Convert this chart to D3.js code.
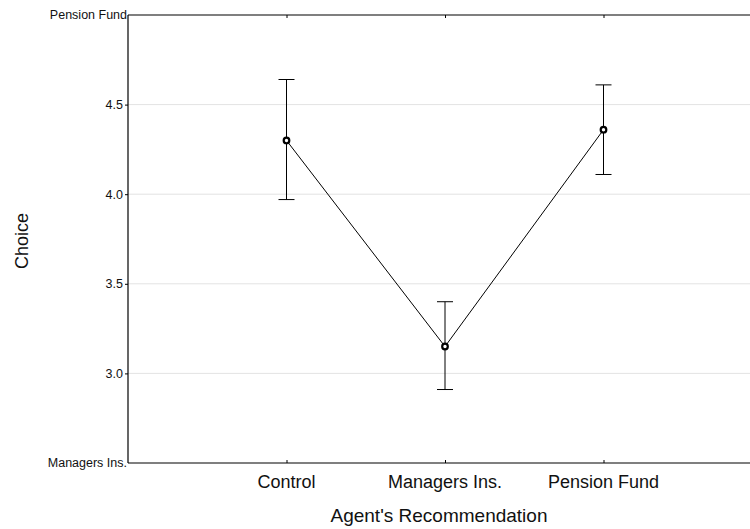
<!DOCTYPE html>
<html>
<head>
<meta charset="utf-8">
<script src="https://cdn.jsdelivr.net/npm/d3@7"></script>
<style>
  body { margin: 0; background: white; }
  text { font-family: "Liberation Sans", Arial, sans-serif; }
</style>
</head>
<body>
<svg id="chart"></svg>
<script>
// data
const categories = ["Control", "Managers Ins.", "Pension Fund"];
const means = [4.30, 3.15, 4.36];
const upper = [4.64, 3.40, 4.61];
const lower = [3.97, 2.91, 4.11];
const yTicks = [3.0, 3.5, 4.0, 4.5];
const yEndLabels = [[2.5, "Managers Ins."], [5.0, "Pension Fund"]];

const width = 750, height = 529;
const plotLeft = 128, plotTop = 15, plotBottom = 463;

const svg = d3.select("#chart")
    .attr("width", width)
    .attr("height", height);

//x positions: categories at 1,2,3
const x = d3.scaleLinear().domain([0, 4]).range([plotLeft, 762]);
const y = d3.scaleLinear().domain([2.5, 5.0]).range([plotBottom, plotTop]);

//grid lines
svg.append("g")
    .selectAll("line")
    .data(yTicks)
    .join("line")
    .attr("x1", plotLeft).attr("x2", width)
    .attr("y1", d => y(d)).attr("y2", d => y(d))
    .attr("stroke", "#e3e3e3")
    .attr("stroke-width", 1);

//left axis
const yAxis = svg.append("g")
    .attr("transform", `translate(${plotLeft},0)`)
    .call(d3.axisLeft(y).tickValues(yTicks).tickSize(3).tickPadding(2).tickFormat(d3.format(".1f")));
yAxis.select(".domain").remove();
yAxis.selectAll("text").style("font-size", "12.5px").attr("fill", "#111");

//end labels on y axis
svg.append("g")
    .selectAll("text")
    .data(yEndLabels)
    .join("text")
    .attr("x", plotLeft - 1)
    .attr("y", d => y(d[0]))
    .attr("dy", "0.35em")
    .attr("text-anchor", "end")
    .style("font-size", "12.5px")
    .attr("fill", "#111")
    .text(d => d[1]);

//bottom axis
const xAxis = svg.append("g")
    .attr("transform", `translate(0,${plotBottom})`)
    .call(d3.axisBottom(x).tickValues([1, 2, 3]).tickSize(-3).tickFormat(""));
xAxis.select(".domain").remove();

svg.append("g")
    .selectAll("text")
    .data(categories)
    .join("text")
    .attr("x", (d, i) => x(i + 1))
    .attr("y", 488)
    .attr("text-anchor", "middle")
    .style("font-size", "18px")
    .attr("fill", "#111")
    .text(d => d);

//top axis
svg.append("g")
    .attr("transform", `translate(0,${plotTop})`)
    .call(d3.axisTop(x).tickValues([1, 2, 3]).tickSize(-3).tickFormat(""))
    .select(".domain").remove();

//frame lines
svg.append("line").attr("x1", plotLeft).attr("x2", plotLeft).attr("y1", plotTop).attr("y2", plotBottom)
    .attr("stroke", "#000").attr("stroke-width", 1.2);
svg.append("line").attr("x1", plotLeft).attr("x2", width).attr("y1", plotBottom).attr("y2", plotBottom)
    .attr("stroke", "#000").attr("stroke-width", 1.2);
svg.append("line").attr("x1", plotLeft).attr("x2", width).attr("y1", plotTop).attr("y2", plotTop)
    .attr("stroke", "#000").attr("stroke-width", 1.2);

//error bars
const eb = svg.append("g").attr("stroke", "#000").attr("stroke-width", 1);
categories.forEach((c, i) => {
    const cx = x(i + 1);
    eb.append("line").attr("x1", cx).attr("x2", cx).attr("y1", y(upper[i])).attr("y2", y(lower[i]));
    eb.append("line").attr("x1", cx - 8).attr("x2", cx + 8).attr("y1", y(upper[i])).attr("y2", y(upper[i]));
    eb.append("line").attr("x1", cx - 8).attr("x2", cx + 8).attr("y1", y(lower[i])).attr("y2", y(lower[i]));
});

//mean line
svg.append("path")
    .datum(means)
    .attr("d", d3.line().x((d, i) => x(i + 1)).y(d => y(d)))
    .attr("fill", "none")
    .attr("stroke", "#000")
    .attr("stroke-width", 1);

svg.append("g")
    .selectAll("circle")
    .data(means)
    .join("circle")
    .attr("cx", (d, i) => x(i + 1))
    .attr("cy", d => y(d))
    .attr("r", 2.8)
    .attr("fill", "white")
    .attr("stroke", "#000")
    .attr("stroke-width", 2.2);

//axis titles
svg.append("text")
    .attr("x", 439)
    .attr("y", 522)
    .attr("text-anchor", "middle")
    .style("font-size", "19px")
    .attr("fill", "#111")
    .text("Agent's Recommendation");

svg.append("text")
    .attr("transform", `translate(28,241) rotate(-90)`)
    .attr("text-anchor", "middle")
    .style("font-size", "18px")
    .attr("fill", "#111")
    .text("Choice");
</script>
</body>
</html>
